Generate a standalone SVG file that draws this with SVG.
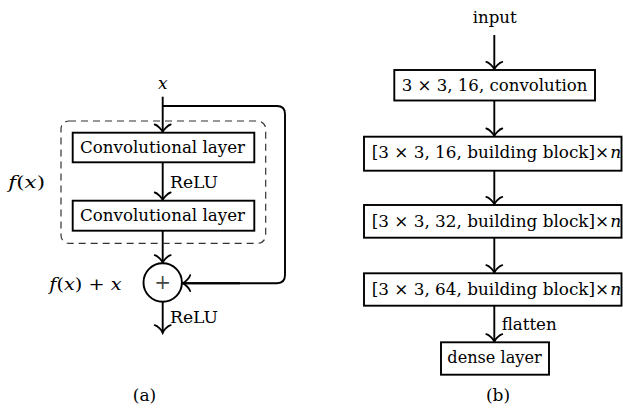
<svg xmlns="http://www.w3.org/2000/svg" width="623" height="410" viewBox="0 0 623 410">
<style>
  text { font-family: "DejaVu Serif", "Liberation Serif", "Noto Serif", serif; font-size: 17px; fill: #000; }
  .it { font-style: italic; }
  .wide { font-size: 16.7px; }
  .box { fill: #fff; stroke: #000; stroke-width: 1.9; }
  .conn { fill: none; stroke: #000; stroke-width: 1.9; }
  .arrow { marker-end: url(#to); }
  .dash { fill: none; stroke: #333; stroke-width: 1.2; stroke-dasharray: 7 5; }
</style>
<defs>
  <marker id="to" markerUnits="userSpaceOnUse" viewBox="-8 -10 12 20" markerWidth="12" markerHeight="20" refX="2.2" refY="0" orient="auto">
    <path d="M-6,-8 C-5.5,-5 0,-0.5 1.5,0 C0,0.5 -5.5,5 -6,8" fill="none" stroke="#000" stroke-width="1.8" stroke-linecap="round"/>
  </marker>
</defs>

<g id="connectors">
  <path class="conn arrow" d="M162.7,96.7 V132.7"/>
  <path class="conn" d="M162.7,106 H277 Q285,106 285,114 V275 Q285,283.2 277,283.2 H182"/>
  <path class="conn arrow" d="M240,283.2 H182"/>
  <path class="conn arrow" d="M162.7,162.3 V200.7"/>
  <path class="conn arrow" d="M162.7,230.7 V263.3"/>
  <path class="conn arrow" d="M162.7,301.7 V333.3"/>
  <path class="conn arrow" d="M494.3,35 V70"/>
  <path class="conn arrow" d="M494.3,100.5 V136.7"/>
  <path class="conn arrow" d="M494.3,170.7 V205"/>
  <path class="conn arrow" d="M494.3,237.7 V273.3"/>
  <path class="conn arrow" d="M494.3,305.7 V342.3"/>
</g>

<g id="block-a">
  <rect id="fx-region" class="dash" x="61" y="121" width="204.7" height="122.3" rx="8"/>
  <text x="8.3" y="188.3" textLength="36.7" lengthAdjust="spacingAndGlyphs"><tspan class="it">f</tspan>(<tspan class="it">x</tspan>)</text>
</g>

<g id="input-x">
  <text class="it" x="162.7" y="89" text-anchor="middle">x</text>
</g>

<g id="conv1">
  <rect class="box" x="72.7" y="132.7" width="181.6" height="29.6"/>
  <text x="80" y="153.3" textLength="165" lengthAdjust="spacingAndGlyphs">Convolutional layer</text>
</g>
<g id="relu1">
  <text x="170" y="188.3" textLength="48" lengthAdjust="spacingAndGlyphs">ReLU</text>
</g>
<g id="conv2">
  <rect class="box" x="72.7" y="200.7" width="181.6" height="30"/>
  <text x="80" y="220.7" textLength="165" lengthAdjust="spacingAndGlyphs">Convolutional layer</text>
</g>
<g id="sum">
  <circle class="box" cx="162.7" cy="282.5" r="19.2"/>
  <text x="162.7" y="289" text-anchor="middle" style="fill:#444;font-size:20px">+</text>
  <text x="49.3" y="290" textLength="72.4" lengthAdjust="spacingAndGlyphs"><tspan class="it">f</tspan>(<tspan class="it">x</tspan>) + <tspan class="it">x</tspan></text>
</g>
<g id="relu2">
  <text x="170" y="323.3" textLength="48" lengthAdjust="spacingAndGlyphs">ReLU</text>
</g>
<g id="caption-a">
  <text x="144.5" y="401" text-anchor="middle">(a)</text>
</g>

<g id="input">
  <text x="472.7" y="23.3" textLength="44" lengthAdjust="spacingAndGlyphs">input</text>
</g>
<g id="conv-first">
  <rect class="box" x="394.3" y="70" width="200.7" height="30.5"/>
  <text x="401.7" y="90.5" textLength="185.7" lengthAdjust="spacingAndGlyphs">3 × 3, 16, convolution</text>
</g>
<g id="stage16">
  <rect class="box" x="364" y="136.7" width="257.5" height="34"/>
  <text class="wide" x="371.7" y="158.3" textLength="237.5" lengthAdjust="spacingAndGlyphs">[3 × 3, 16, building block]×</text>
  <text class="it" x="610.3" y="158.3">n</text>
</g>
<g id="stage32">
  <rect class="box" x="364" y="205" width="257.5" height="32.7"/>
  <text class="wide" x="371.7" y="226.5" textLength="237.5" lengthAdjust="spacingAndGlyphs">[3 × 3, 32, building block]×</text>
  <text class="it" x="610.3" y="226.5">n</text>
</g>
<g id="stage64">
  <rect class="box" x="364" y="273.3" width="257.5" height="32.4"/>
  <text class="wide" x="371.7" y="294.8" textLength="237.5" lengthAdjust="spacingAndGlyphs">[3 × 3, 64, building block]×</text>
  <text class="it" x="610.3" y="294.8">n</text>
</g>
<g id="flatten">
  <text x="501.7" y="330" textLength="55" lengthAdjust="spacingAndGlyphs">flatten</text>
</g>
<g id="dense">
  <rect class="box" x="441" y="342.3" width="108" height="32.4"/>
  <text x="447.3" y="362.5" textLength="94.4" lengthAdjust="spacingAndGlyphs">dense layer</text>
</g>
<g id="caption-b">
  <text x="498" y="401" text-anchor="middle">(b)</text>
</g>
</svg>
